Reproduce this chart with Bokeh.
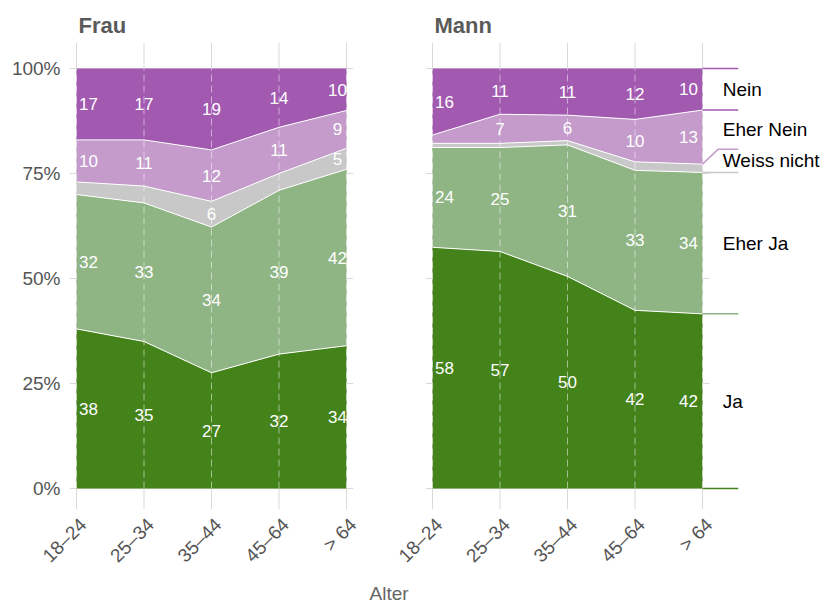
import math
import numpy as np
from bokeh.plotting import figure
from bokeh.layouts import row
from bokeh.models import FixedTicker, Label, ColumnDataSource, Title
from bokeh.core.properties import value
from bokeh.embed import file_html
from bokeh.resources import INLINE

# Age groups and answer categories (stacked bottom to top)
ages = ["18–24", "25–34", "35–44", "45–64", "> 64"]
categories = ["Ja", "Eher Ja", "Weiss nicht", "Eher Nein", "Nein"]

# Shares in percent per age group
frau_ja = [38, 35, 27, 32, 34]
frau_eher_ja = [32, 33, 34, 39, 42]
frau_weiss_nicht = [3, 4, 6, 4, 5]
frau_eher_nein = [10, 11, 12, 11, 9]
frau_nein = [17, 17, 19, 14, 10]

mann_ja = [58, 57, 50, 42, 42]
mann_eher_ja = [24, 25, 31, 33, 34]
mann_weiss_nicht = [1, 1, 1, 2, 2]
mann_eher_nein = [2, 7, 6, 10, 13]
mann_nein = [16, 11, 11, 12, 10]

y_ticks = [0, 25, 50, 75, 100]

COLORS = {
    "Ja": "#44821a",
    "Eher Ja": "#8fb584",
    "Weiss nicht": "#c8c8c8",
    "Eher Nein": "#c49bcb",
    "Nein": "#a259b0",
}
FONT = "Liberation Sans"
GRID = "#d9d9d9"

PX_PER_STEP = 67.5
X_PAD = 7 / PX_PER_STEP
Y_LO, Y_HI = -5.0, 100 + 26 / 4.2
FRAME_H = 467
LABEL_MIN = 5
TICK_SHIFT = 0.1  # rotated tick labels sit slightly right of their grid line


def stacked(series):
    vals = np.array(series, dtype=float)
    shares = vals / vals.sum(axis=0) * 100
    upper = np.cumsum(shares, axis=0)
    lower = upper - shares
    return vals, lower, upper


def make_panel(title, series, first_panel, last_nudge):
    xs = np.arange(len(ages))
    frame_w = 284 if first_panel else 402
    x_end = -X_PAD + frame_w / PX_PER_STEP
    p = figure(
        frame_width=frame_w, frame_height=FRAME_H,
        x_range=(-X_PAD, x_end), y_range=(Y_LO, Y_HI),
        output_backend="svg", toolbar_location=None,
        y_axis_location="left" if first_panel else None,
        min_border_left=69 if first_panel else 56,
        min_border_right=16 if first_panel else 0,
        min_border_top=42, min_border_bottom=95,
    )
    p.outline_line_color = None
    p.grid.visible = False
    p.background_fill_color = "white"
    p.border_fill_color = "white"

    # panel title
    p.title.text = title
    p.title.text_font = FONT
    p.title.text_font_size = "22px"
    p.title.text_font_style = "bold"
    p.title.text_color = "#5a5a5a"
    p.title.align = "left"
    p.title.offset = 9

    # grid lines, only spanning the panel itself
    grid_x_end = len(ages) - 1 + X_PAD
    p.segment(x0=[-X_PAD] * len(y_ticks), y0=y_ticks, x1=[grid_x_end] * len(y_ticks), y1=y_ticks,
              line_color=GRID, line_width=1)
    p.segment(x0=xs, y0=[Y_LO] * len(xs), x1=xs, y1=[Y_HI] * len(xs), line_color=GRID, line_width=1)

    vals, lower, upper = stacked(series)
    for k, cat in enumerate(categories):
        p.varea(x=xs, y1=lower[k], y2=upper[k], fill_color=COLORS[cat])
    for k in range(len(categories) - 1):
        p.line(x=xs, y=upper[k], line_color="white", line_width=1)

    # dashed guides across the stacked areas
    p.segment(x0=xs, y0=[0] * len(xs), x1=xs, y1=[100] * len(xs),
              line_color="white", line_alpha=0.5, line_width=1, line_dash="7 4")

    # value labels in the middle of each band
    lx, ly, lt, lo = [], [], [], []
    for k in range(len(categories)):
        for i in range(len(ages)):
            v = int(vals[k, i])
            if v < LABEL_MIN:
                continue
            lx.append(i)
            ly.append((lower[k, i] + upper[k, i]) / 2)
            lt.append(str(v))
            lo.append(12 if i == 0 else (last_nudge if i == len(ages) - 1 else 0))
    src = ColumnDataSource(dict(x=lx, y=ly, text=lt, off=lo))
    p.text(x="x", y="y", text="text", x_offset="off", source=src,
           text_align="center", text_baseline="middle", text_color="white",
           text_font=value(FONT), text_font_size="17px")

    # axes
    tick_pos = [i + TICK_SHIFT for i in range(len(ages))]
    p.xaxis.ticker = FixedTicker(ticks=tick_pos)
    p.xaxis.major_label_overrides = {t: a for t, a in zip(tick_pos, ages)}
    p.xaxis.major_label_orientation = math.pi / 4
    p.xaxis.axis_line_color = None
    p.xaxis.major_tick_line_color = None
    p.xaxis.major_tick_out = 0
    p.xaxis.major_tick_in = 0
    p.xaxis.minor_tick_line_color = None
    p.xaxis.major_label_text_font = FONT
    p.xaxis.major_label_text_font_size = "19px"
    p.xaxis.major_label_text_color = "#555555"
    p.xaxis.major_label_standoff = 12
    if first_panel:
        p.yaxis.ticker = FixedTicker(ticks=y_ticks)
        p.yaxis.major_label_overrides = {v: f"{v}%" for v in y_ticks}
        p.yaxis.axis_line_color = None
        p.yaxis.major_tick_line_color = None
        p.yaxis.major_tick_out = 0
        p.yaxis.major_tick_in = 0
        p.yaxis.minor_tick_line_color = None
        p.yaxis.major_label_text_font = FONT
        p.yaxis.major_label_text_font_size = "19px"
        p.yaxis.major_label_text_color = "#555555"
        p.yaxis.major_label_standoff = 9
    return p, lower, upper


frau, _, _ = make_panel("Frau", [frau_ja, frau_eher_ja, frau_weiss_nicht, frau_eher_nein, frau_nein], True, -9)
mann, m_lower, m_upper = make_panel("Mann", [mann_ja, mann_eher_ja, mann_weiss_nicht, mann_eher_nein, mann_nein], False, -14)

# shared axis title, centred under both panels (placed in the gap left of the second panel)
mann.add_layout(Title(text="Alter", align="left", offset=-56, standoff=9,
                      text_font=FONT, text_font_size="19px", text_font_style="normal",
                      text_color="#666666"), "below")

# direct labels to the right of the last age group
last = len(ages) - 1
line_end = last + 0.53
bounds = [m_lower[k, last] for k in range(len(categories))] + [100.0]
# keep room for the thin "Weiss nicht" band label
wn = categories.index("Weiss nicht")
bent = max(bounds[wn + 1], bounds[wn] + 5.5)
for k, cat in enumerate(categories):
    y0 = bounds[k]
    if k == wn + 1:
        mann.line(x=[last, last + 0.23, line_end], y=[y0, bent, bent], line_color=COLORS[cat], line_width=1.5)
    else:
        mann.line(x=[last, line_end], y=[y0, y0], line_color=COLORS[cat], line_width=1.5)
mann.line(x=[last, line_end], y=[100, 100], line_color=COLORS["Nein"], line_width=1.5)

label_bounds = list(bounds)
label_bounds[wn + 1] = bent
for k, cat in enumerate(categories):
    mid = (label_bounds[k] + label_bounds[k + 1]) / 2
    mann.add_layout(Label(x=last + 0.3, y=mid, text=cat, text_align="left", text_baseline="middle",
                          text_font=FONT, text_font_size="19px", text_color="black"))

layout = row(frau, mann)
open("out.html", "w").write(file_html(layout, INLINE))
